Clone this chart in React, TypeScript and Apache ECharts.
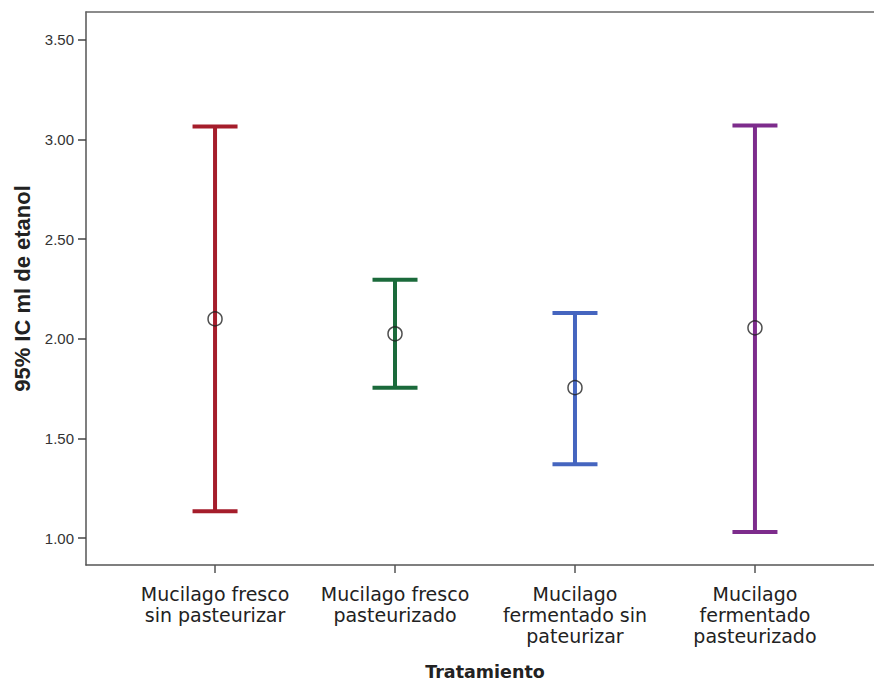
import React, { useEffect, useRef } from "react";
import * as echarts from "echarts";

const categories = [
  "Mucilago fresco\nsin pasteurizar",
  "Mucilago fresco\npasteurizado",
  "Mucilago\nfermentado sin\npateurizar",
  "Mucilago\nfermentado\npasteurizado",
];
const means = [2.1, 2.025, 1.755, 2.055];
const lowerCI = [1.135, 1.755, 1.37, 1.03];
const upperCI = [3.065, 2.297, 2.13, 3.07];
const colors = ["#a51d2b", "#1b6a3b", "#4565bf", "#7d2c8c"];
const yTicks = [1.0, 1.5, 2.0, 2.5, 3.0, 3.5];

export default function App() {
  const ref = useRef<HTMLDivElement>(null);
  useEffect(() => {
    if (!ref.current) return;
    const chart = echarts.init(ref.current, undefined, { renderer: "svg" });
    const xPos = categories.map((_, i) => i + 1);
    const barData = categories.map((_, i) => ({
      value: [xPos[i], lowerCI[i], upperCI[i]],
      itemStyle: { color: colors[i] },
    }));
    const meanData = categories.map((_, i) => [xPos[i], means[i]]);
    chart.setOption({
      animation: false,
      grid: {
        left: 86,
        top: 12,
        right: -10,
        bottom: 681 - 565,
        show: false,
        containLabel: false,
        outerBoundsMode: "none",
      },
      xAxis: [
        {
          type: "value",
          min: 0.283,
          max: 4.717,
          name: "Tratamiento",
          nameLocation: "middle",
          nameGap: 98,
          nameTextStyle: { fontFamily: "DejaVu Sans", fontWeight: "bold", fontSize: 17.5, color: "#222" },
          axisLine: { show: true, lineStyle: { color: "#555", width: 1.5 } },
          axisTick: { show: true, customValues: xPos, length: 8, lineStyle: { color: "#555", width: 1.5 } },
          axisLabel: {
            customValues: xPos,
            formatter: (v: number) => categories[Math.round(v) - 1] ?? "",
            fontFamily: "DejaVu Sans",
            fontSize: 19,
            lineHeight: 21,
            color: "#222",
            margin: 18,
          },
          splitLine: { show: false },
        },
        {
          type: "value",
          position: "top",
          min: 0.283,
          max: 4.717,
          axisLine: { show: true, lineStyle: { color: "#666", width: 1.5 } },
          axisTick: { show: false },
          axisLabel: { show: false },
          splitLine: { show: false },
        },
      ],
      yAxis: {
        type: "value",
        min: 0.865,
        max: 3.64,
        name: "95% IC ml de etanol",
        nameLocation: "middle",
        nameGap: 53,
        nameTextStyle: { fontFamily: "Liberation Sans, Arial", fontWeight: "bold", fontSize: 22, color: "#222" },
        axisLine: { show: true, lineStyle: { color: "#555", width: 1.5 } },
        axisTick: { show: true, customValues: yTicks, length: 8, lineStyle: { color: "#444", width: 1.5 } },
        axisLabel: {
          customValues: yTicks,
          formatter: (v: number) => v.toFixed(2),
          fontFamily: "Liberation Sans, Arial",
          fontSize: 15,
          color: "#333",
          margin: 12,
        },
        splitLine: { show: false },
      },
      series: [
        {
          type: "custom",
          data: barData,
          renderItem: (params: any, api: any) => {
            const x = api.value(0);
            const lo = api.coord([x, api.value(1)]);
            const hi = api.coord([x, api.value(2)]);
            const hw = 22.5;
            const color = colors[params.dataIndex];
            const style = { stroke: color, lineWidth: 4 };
            return {
              type: "group",
              children: [
                { type: "line", shape: { x1: hi[0], y1: hi[1], x2: lo[0], y2: lo[1] }, style },
                { type: "line", shape: { x1: hi[0] - hw, y1: hi[1], x2: hi[0] + hw, y2: hi[1] }, style },
                { type: "line", shape: { x1: lo[0] - hw, y1: lo[1], x2: lo[0] + hw, y2: lo[1] }, style },
              ],
            };
          },
          z: 2,
        },
        {
          type: "scatter",
          data: meanData,
          symbol: "circle",
          symbolSize: 14,
          itemStyle: { color: "rgba(0,0,0,0)", borderColor: "#222", borderWidth: 1.5 },
          z: 3,
        },
      ],
    });
    return () => chart.dispose();
  }, []);
  return (
    <div
      ref={ref}
      style={{ position: "fixed", left: 0, top: 0, width: 874, height: 681, background: "#fff" }}
    />
  );
}
